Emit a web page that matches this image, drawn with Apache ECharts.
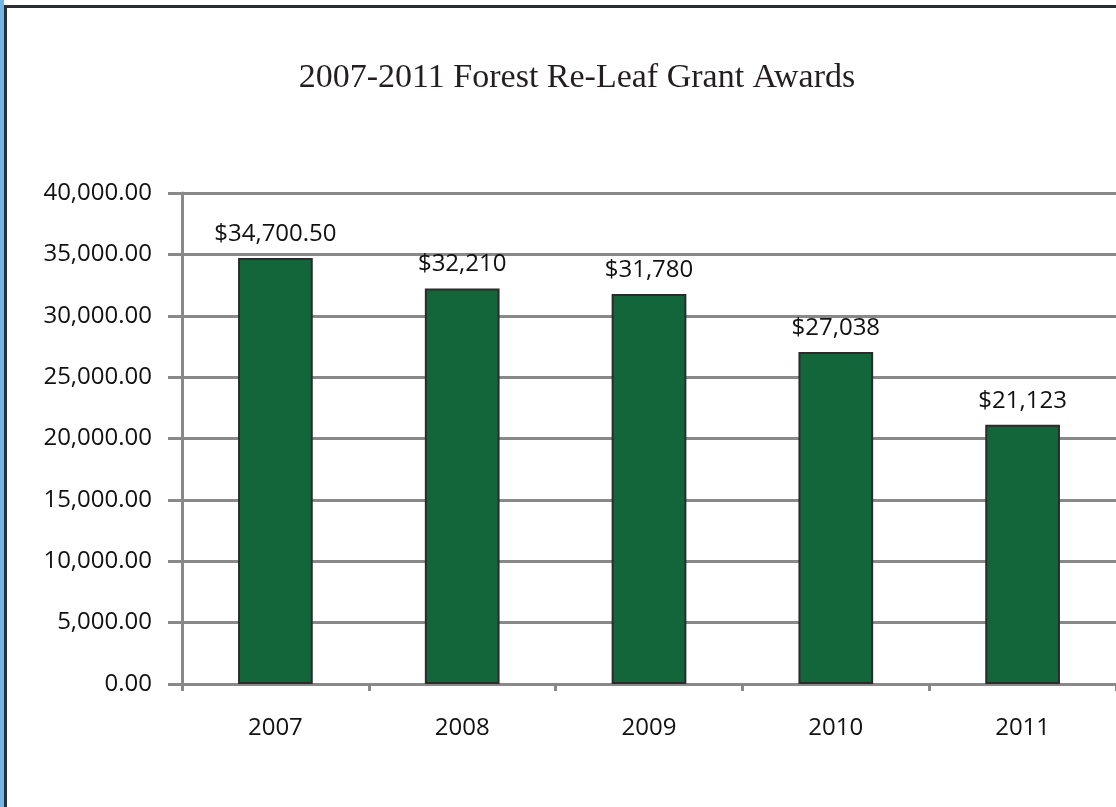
<!DOCTYPE html>
<html><head><meta charset="utf-8">
<script src="https://cdn.jsdelivr.net/npm/echarts@6/dist/echarts.min.js"></script>
<style>
html,body{margin:0;padding:0;background:#fff;overflow:hidden;}
#wrap{position:absolute;left:0;top:0;width:1116px;height:807px;}
#strip{position:absolute;left:0;top:0;width:4px;height:807px;background:#74b5e4;}
#frame{position:absolute;left:4px;top:5px;width:1112px;height:802px;border-left:3px solid #2a2d33;border-top:3px solid #2a2d33;box-sizing:border-box;}
#chart{position:absolute;left:0;top:0;width:1116px;height:807px;}
</style></head>
<body>
<div id="wrap"><div id="chart"></div><div id="strip"></div><div id="frame"></div></div>
<script>
const categories = ['2007','2008','2009','2010','2011'];
const values = [34700.50, 32210, 31780, 27038, 21123];
const valueLabels = ['$34,700.50','$32,210','$31,780','$27,038','$21,123'];
const titleText = '2007-2011 Forest Re-Leaf Grant Awards';

const chart = echarts.init(document.getElementById('chart'));
chart.setOption({
  animation:false,
  backgroundColor:'#fff',
  title:{text:titleText,left:572,top:56,textAlign:'center',
    textStyle:{fontFamily:'Liberation Serif',fontWeight:'normal',fontSize:34,color:'#231f20'}},
  grid:{left:182,top:193,width:938,height:491,containLabel:false},
  xAxis:{type:'category',data:categories,
    axisLine:{show:true,lineStyle:{color:'#898989',width:3}},
    axisTick:{show:true,length:7,lineStyle:{color:'#898989',width:3}},
    axisLabel:{margin:32,fontFamily:'Open Sans',fontSize:24,color:'#111'}},
  yAxis:{type:'value',min:0,max:40000,interval:5000,
    axisLine:{show:true,lineStyle:{color:'#898989',width:3}},
    axisTick:{show:true,length:14,lineStyle:{color:'#898989',width:3}},
    splitLine:{show:true,lineStyle:{color:'#898989',width:3}},
    axisLabel:{margin:30,fontFamily:'Open Sans',fontSize:24,color:'#111',
      formatter:v=>v.toLocaleString('en-US',{minimumFractionDigits:2,maximumFractionDigits:2})}},
  series:[{type:'bar',data:values,barCategoryGap:'60%',
    itemStyle:{color:'#12663a',borderColor:'#2b2b2b',borderWidth:2},
    label:{show:true,position:'top',distance:12,fontFamily:'Open Sans',fontSize:24,color:'#111',
      formatter:p=>valueLabels[p.dataIndex]}}]
});
</script>
</body></html>
